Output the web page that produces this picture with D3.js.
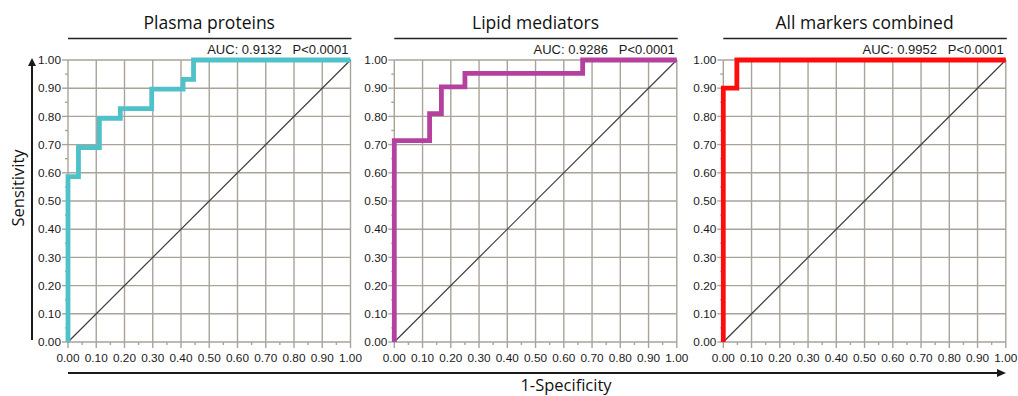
<!DOCTYPE html>
<html>
<head>
<meta charset="utf-8">
<script src="https://cdn.jsdelivr.net/npm/d3@7"></script>
<style>
  html, body { margin: 0; padding: 0; background: #fff; }
  svg { display: block; }
  .tick-label { font-family: "Liberation Sans", Arial, sans-serif; font-size: 11.8px; fill: #1a1a1a; }
  .title { font-family: "Open Sans", "Noto Sans", sans-serif; font-size: 17.5px; fill: #111; }
  .auc { font-family: "Liberation Sans", Arial, sans-serif; font-size: 13px; fill: #1a1a1a; white-space: pre; }
  .axis-title { font-family: "Open Sans", "Noto Sans", sans-serif; font-size: 16.5px; fill: #111; }
</style>
</head>
<body>
<svg id="chart" width="1018" height="396"></svg>
<script>
// ROC curve step points: false positive rate (1-specificity) and true positive rate (sensitivity)
const panelTitles = ["Plasma proteins", "Lipid mediators", "All markers combined"];
const aucLabels = ["AUC: 0.9132", "AUC: 0.9286", "AUC: 0.9952"];
const pLabels = ["P<0.0001", "P<0.0001", "P<0.0001"];

const plasmaFpr = [0, 0, 0.0370, 0.1111, 0.1852, 0.2963, 0.4074, 0.4444, 1];
const plasmaTpr = [0, 0.5862, 0.6897, 0.7931, 0.8276, 0.8966, 0.9310, 1, 1];

const lipidFpr = [0, 0, 0.1250, 0.1667, 0.2500, 0.6667, 1];
const lipidTpr = [0, 0.7143, 0.8095, 0.9048, 0.9524, 1, 1];

const combinedFpr = [0, 0, 0.048, 1];
const combinedTpr = [0, 0.90, 1, 1];

const majorTicks = [0, 0.1, 0.2, 0.3, 0.4, 0.5, 0.6, 0.7, 0.8, 0.9, 1.0];
const minorTicks = [0.05, 0.15, 0.25, 0.35, 0.45, 0.55, 0.65, 0.75, 0.85, 0.95];
const tickLabels = ["0.00", "0.10", "0.20", "0.30", "0.40", "0.50", "0.60", "0.70", "0.80", "0.90", "1.00"];

const curveColors = ["#4fc1c9", "#b5419e", "#ff0d0d"];
const series = [
  { fpr: plasmaFpr, tpr: plasmaTpr },
  { fpr: lipidFpr, tpr: lipidTpr },
  { fpr: combinedFpr, tpr: combinedTpr }
];

const svg = d3.select("#chart");
const panelLeft = [68, 394.3, 723.3];
const plotW = 282.5, plotTop = 60, plotBottom = 342;
const gridColor = "#a9a39a";

const y = d3.scaleLinear().domain([0, 1]).range([plotBottom, plotTop]);

series.forEach((s, i) => {
  const x = d3.scaleLinear().domain([0, 1]).range([panelLeft[i], panelLeft[i] + plotW]);
  const g = svg.append("g");

  // grid
  g.append("g").selectAll("line").data(majorTicks).join("line")
    .attr("x1", d => x(d)).attr("x2", d => x(d))
    .attr("y1", y(0)).attr("y2", y(1))
    .attr("stroke", gridColor).attr("stroke-width", 1.4);
  g.append("g").selectAll("line").data(majorTicks).join("line")
    .attr("x1", x(0)).attr("x2", x(1))
    .attr("y1", d => y(d)).attr("y2", d => y(d))
    .attr("stroke", gridColor).attr("stroke-width", 1.4);

  // y axis ticks (outside, left)
  g.append("g").selectAll("line").data(majorTicks).join("line")
    .attr("x1", x(0) - 6).attr("x2", x(0))
    .attr("y1", d => y(d)).attr("y2", d => y(d))
    .attr("stroke", gridColor).attr("stroke-width", 1.4);
  g.append("g").selectAll("line").data(minorTicks).join("line")
    .attr("x1", x(0) - 3).attr("x2", x(0))
    .attr("y1", d => y(d)).attr("y2", d => y(d))
    .attr("stroke", gridColor).attr("stroke-width", 1.4);

  // x axis ticks (outside, below)
  g.append("g").selectAll("line").data(majorTicks).join("line")
    .attr("x1", d => x(d)).attr("x2", d => x(d))
    .attr("y1", y(0)).attr("y2", y(0) + 6)
    .attr("stroke", gridColor).attr("stroke-width", 1.4);
  g.append("g").selectAll("line").data(minorTicks).join("line")
    .attr("x1", d => x(d)).attr("x2", d => x(d))
    .attr("y1", y(0)).attr("y2", y(0) + 3)
    .attr("stroke", gridColor).attr("stroke-width", 1.4);

  // tick labels
  g.append("g").selectAll("text").data(majorTicks).join("text")
    .attr("class", "tick-label")
    .attr("x", x(0) - 7).attr("y", d => y(d))
    .attr("dy", "0.35em").attr("text-anchor", "end")
    .text((d, k) => tickLabels[k]);
  g.append("g").selectAll("text").data(majorTicks).join("text")
    .attr("class", "tick-label")
    .attr("x", d => x(d)).attr("y", y(0) + 20)
    .attr("text-anchor", "middle")
    .text((d, k) => tickLabels[k]);

  // chance diagonal
  g.append("line")
    .attr("x1", x(0)).attr("y1", y(0)).attr("x2", x(1)).attr("y2", y(1))
    .attr("stroke", "#3d3d3d").attr("stroke-width", 1.2);

  // ROC curve
  const pts = s.fpr.map((f, k) => [f, s.tpr[k]]);
  const line = d3.line().x(d => x(d[0])).y(d => y(d[1])).curve(d3.curveStepAfter);
  g.append("path")
    .attr("d", line(pts))
    .attr("fill", "none")
    .attr("stroke", curveColors[i])
    .attr("stroke-width", 4.8)
    .attr("stroke-linejoin", "miter");

  // title with rule beneath
  g.append("text").attr("class", "title")
    .attr("x", (x(0) + x(1)) / 2).attr("y", 29)
    .attr("text-anchor", "middle")
    .text(panelTitles[i]);
  g.append("line")
    .attr("x1", x(0)).attr("x2", x(1) + 1)
    .attr("y1", 38.5).attr("y2", 38.5)
    .attr("stroke", "#222").attr("stroke-width", 1.5);

  // AUC annotation
  g.append("text").attr("class", "auc")
    .attr("x", x(1) - 2).attr("y", 54)
    .attr("text-anchor", "end")
    .text(aucLabels[i] + "   " + pLabels[i]);
});

// shared axis arrows
const ink = "#1a1a1a";
svg.append("line").attr("x1", 32).attr("x2", 32).attr("y1", 340).attr("y2", 64)
  .attr("stroke", ink).attr("stroke-width", 2);
svg.append("path").attr("d", "M32,58 L28,66 L36,66 Z").attr("fill", ink);
svg.append("text").attr("class", "axis-title")
  .attr("transform", "translate(24,188) rotate(-90)")
  .attr("text-anchor", "middle")
  .text("Sensitivity");

svg.append("line").attr("x1", 68).attr("x2", 998).attr("y1", 373).attr("y2", 373)
  .attr("stroke", ink).attr("stroke-width", 2);
svg.append("path").attr("d", "M1006,373 L997,369 L997,377 Z").attr("fill", ink);
svg.append("text").attr("class", "axis-title")
  .attr("x", 566).attr("y", 391)
  .attr("text-anchor", "middle")
  .text("1-Specificity");
</script>
</body>
</html>
